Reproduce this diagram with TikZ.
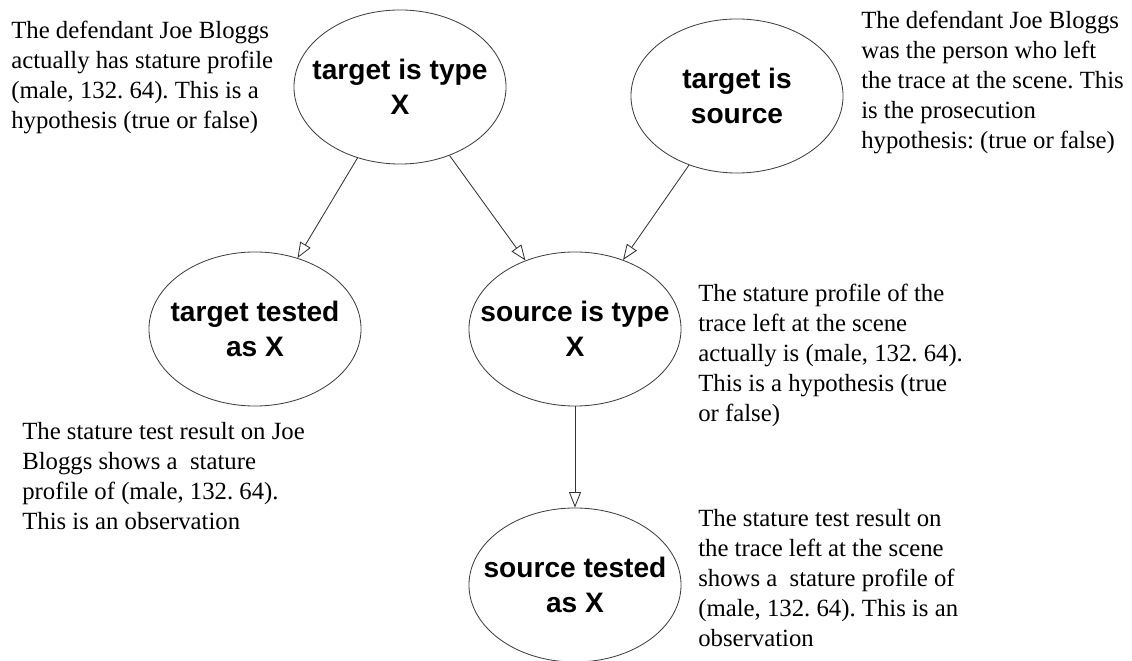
\documentclass[tikz,border=0pt]{standalone}
\usepackage{fontspec}
\setmainfont{Liberation Serif}
\setsansfont{Liberation Sans}
\usetikzlibrary{shapes.geometric,arrows.meta}
\frenchspacing

\begin{document}
\begin{tikzpicture}
[x=0.025cm,y=-0.025cm,
 hyp/.style = {draw=black!75, ellipse, line width=0.6pt, minimum width=5.3cm, minimum height=3.85cm, inner xsep=-20pt, inner ysep=0pt, align=center, font=\sffamily\bfseries\fontsize{20}{24.5}\selectfont},
 note/.style = {anchor=north west, inner sep=0pt, align=left, font=\fontsize{17.6}{21.3}\selectfont},
 link/.style = {draw=black!80, line width=0.6pt, -{Triangle[open,length=11pt,width=8.5pt]}},]

\useasboundingbox (0,0) rectangle (1132,661);

% the five variables
\node (tt) at (400,87)[hyp] {target is type\\X};
\node (ts) at (737,96)[hyp] {target is\\source};
\node (tx) at (255,329)[hyp] {target tested\\as X};
\node (st) at (575,329)[hyp] {source is type\\X};
\node (sx) at (575,585)[hyp] {source tested\\as X};

\draw [link] (tt) -- (tx);
\draw [link] (tt) -- (st);
\draw [link] (ts) -- (st);
\draw [link] (st) -- (sx);

% notes
\node (hypA) at (11,21)[note] {The defendant Joe Bloggs\\actually has stature profile\\(male, 132. 64). This is a\\hypothesis (true or false)};
\node (hypB) at (861,11)[note] {The defendant Joe Bloggs\\was the person who left\\the trace at the scene. This\\is the prosecution\\hypothesis: (true or false)};
\node (hypC) at (698,284)[note] {The stature profile of the\\trace left at the scene\\actually is (male, 132. 64).\\This is a hypothesis (true\\or false)};
\node (obsD) at (22,422)[note] {The stature test result on Joe\\Bloggs shows a\ \ stature\\profile of (male, 132. 64).\\This is an observation};
\node (obsE) at (698,509)[note] {The stature test result on\\the trace left at the scene\\shows a\ \ stature profile of\\(male, 132. 64). This is an\\observation};

\end{tikzpicture}
\end{document}
